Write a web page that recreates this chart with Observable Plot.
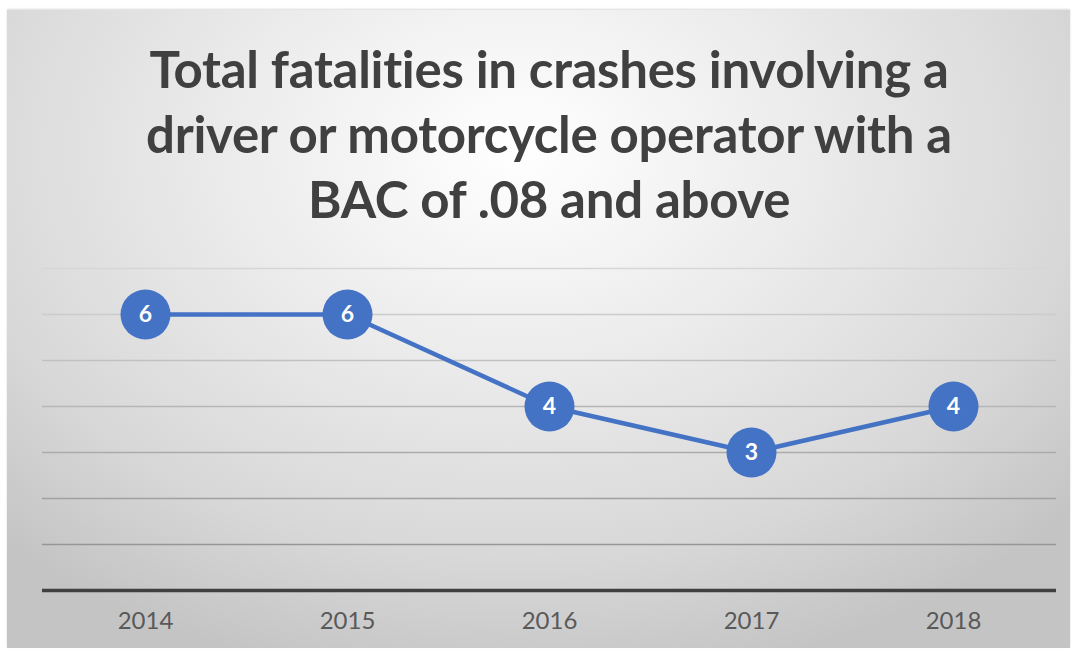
<!DOCTYPE html>
<html><head><meta charset="utf-8">
<script src="https://cdn.jsdelivr.net/npm/d3@7"></script>
<script src="https://cdn.jsdelivr.net/npm/@observablehq/plot@0.6"></script>
<style>
body{margin:0;background:#fff;}
#wrap{position:relative;width:1078px;height:654px;overflow:hidden;background:#fff;}
#panel{position:absolute;left:7px;top:10px;width:1063px;height:638px;
  background:radial-gradient(ellipse 70% 85% at 48% 22%, #ffffff 0%, #ebebeb 40%, #d8d8d8 75%, #c4c4c4 100%);
  box-shadow:0 -1px 2px rgba(0,0,0,0.15);}
#title{position:absolute;left:10px;top:36px;width:1078px;text-align:center;font-family:Lato, sans-serif;font-weight:bold;font-size:51px;line-height:65px;color:#404040;font-variant-ligatures:none;letter-spacing:-0.3px;}
#chart{position:absolute;left:0;top:240px;}
</style></head>
<body>
<div id="wrap">
  <div id="panel"></div>
  <div id="title">Total fatalities in crashes involving a<br>driver or motorcycle operator with a<br>BAC of .08 and above</div>
  <div id="chart"></div>
</div>
<script>
const years = ["2014", "2015", "2016", "2017", "2018"];
const fatalities = [6, 6, 4, 3, 4];
const gridValues = [1, 2, 3, 4, 5, 6, 7];

const data = years.map((year, i) => ({year, value: fatalities[i]}));
const gridColor = d3.interpolateRgb("#969696", "#d6d6d6");

const chart = Plot.plot({
  width: 1078,
  height: 414,
  marginLeft: 42,
  marginRight: 22,
  marginTop: 28,
  marginBottom: 64,
  style: {background: "transparent", fontFamily: "Lato, sans-serif", overflow: "visible"},
  x: {type: "point", domain: years, padding: 0.5, axis: null},
  y: {domain: [0, 7], axis: null},
  marks: [
    Plot.gridY(gridValues, {stroke: d => gridColor((d - 1) / 6), strokeOpacity: 1, strokeWidth: 1.4}),
    Plot.ruleY([0], {stroke: "#404040", strokeWidth: 3.5}),
    Plot.axisX({tickSize: 0, tickPadding: 21, fontSize: 24, fill: "#595959", label: null}),
    Plot.line(data, {x: "year", y: "value", stroke: "#4472C4", strokeWidth: 4.5}),
    Plot.dot(data, {x: "year", y: "value", r: 25, fill: "#4472C4", stroke: "none"}),
    Plot.text(data, {x: "year", y: "value", text: d => String(d.value), fill: "white", fontWeight: "bold", fontSize: 23})
  ]
});
document.getElementById("chart").appendChild(chart);
</script>
</body></html>
